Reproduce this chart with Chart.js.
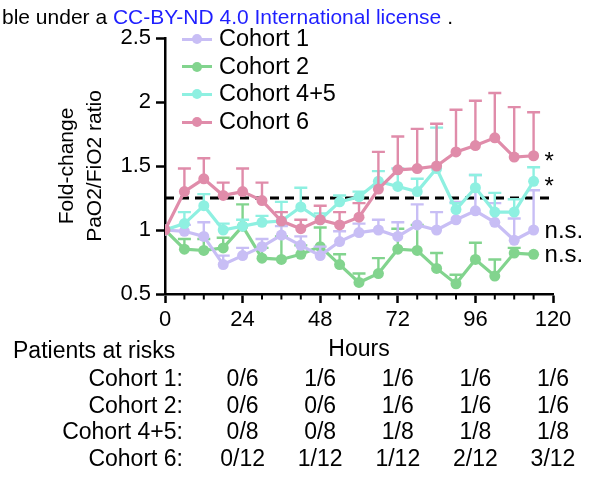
<!DOCTYPE html>
<html>
<head>
<meta charset="utf-8">
<script src="https://cdn.jsdelivr.net/npm/chart.js@4.4.1/dist/chart.umd.min.js"></script>
<style>
body { margin: 0; background: #fff; font-family: 'Liberation Sans', Arial, sans-serif; }
#wrap { position: relative; width: 589px; height: 487px; overflow: hidden; }
canvas { position: absolute; left: 0; top: 0; }
.txt { position: absolute; white-space: nowrap; color: #000; line-height: 1; }
.sw { position: absolute; width: 30px; height: 3px; }
.dot { position: absolute; width: 10px; height: 10px; border-radius: 50%; }
</style>
</head>
<body>
<div id="wrap">
  <canvas id="grafico" width="589" height="487"></canvas>
  <div class="txt" style="left:2px;top:6px;font-size:21px">ble under a <span style="color:#1f1fff">CC-BY-ND 4.0 International license</span> .</div>
  <div id="extras"></div>
</div>
<script>
// datos (cada 6 h)
const horas = [0, 6, 12, 18, 24, 30, 36, 42, 48, 54, 60, 66, 72, 78, 84, 90, 96, 102, 108, 114]

const cohorte1 = [1.00, 0.99, 0.95, 0.73, 0.80, 0.87, 0.96, 0.88, 0.80, 0.91, 0.98, 1.00, 0.95, 1.04, 1.00, 1.08, 1.15, 1.06, 0.92, 1.00]
const cohorte1Sup = [1.00, 1.04, 1.06, 0.80, 0.86, 0.93, 1.03, 0.95, 0.87, 0.99, 1.05, 1.08, 1.06, 1.20, 1.14, 1.22, 1.43, 1.21, 1.09, 1.31]

const cohorte2 = [1.00, 0.85, 0.84, 0.86, 1.03, 0.78, 0.77, 0.81, 0.87, 0.73, 0.59, 0.66, 0.85, 0.84, 0.70, 0.58, 0.77, 0.64, 0.82, 0.81]
const cohorte2Sup = [1.00, 0.93, 0.93, 0.94, 1.20, 0.86, 0.95, 0.88, 1.02, 0.81, 0.66, 0.78, 1.01, 1.04, 0.82, 0.65, 0.90, 0.77, 0.86, 0.81]

const cohorte45 = [1.00, 1.05, 1.19, 1.00, 1.03, 1.06, 1.07, 1.18, 1.08, 1.22, 1.26, 1.38, 1.34, 1.30, 1.48, 1.16, 1.33, 1.14, 1.14, 1.38]
const cohorte45Sup = [1.00, 1.14, 1.28, 1.05, 1.08, 1.11, 1.22, 1.33, 1.13, 1.27, 1.30, 1.46, 1.48, 1.40, 1.80, 1.21, 1.43, 1.29, 1.24, 1.49]

const cohorte6 = [1.00, 1.30, 1.40, 1.27, 1.30, 1.23, 1.07, 1.01, 1.08, 1.04, 1.10, 1.32, 1.47, 1.48, 1.50, 1.61, 1.66, 1.72, 1.57, 1.58]
const cohorte6Sup = [1.00, 1.48, 1.56, 1.37, 1.48, 1.37, 1.14, 1.08, 1.19, 1.14, 1.21, 1.61, 1.73, 1.79, 1.83, 1.94, 2.01, 2.07, 1.96, 1.92]

const nombres = ['Cohort 1', 'Cohort 2', 'Cohort 4+5', 'Cohort 6']
const colores = ['#c8bef5', '#82d48e', '#8ef0e1', '#e08caa']
const signif = ['n.s.', 'n.s.', '*', '*']
const UMBRAL = 1.25

// tabla pacientes en riesgo
const horasRiesgo = [24, 48, 72, 96, 120]
const filasRiesgo = ['Cohort 1:', 'Cohort 2:', 'Cohort 4+5:', 'Cohort 6:']
const riesgo1 = ['0/6', '1/6', '1/6', '1/6', '1/6']
const riesgo2 = ['0/6', '0/6', '1/6', '1/6', '1/6']
const riesgo45 = ['0/8', '0/8', '1/8', '1/8', '1/8']
const riesgo6 = ['0/12', '1/12', '1/12', '2/12', '3/12']

const series = [cohorte1, cohorte2, cohorte45, cohorte6]
const superiores = [cohorte1Sup, cohorte2Sup, cohorte45Sup, cohorte6Sup]
const ordenDibujo = [2, 3, 1, 0]

Chart.defaults.font.family = "'Liberation Sans', Arial, sans-serif"
Chart.defaults.color = '#000'

// barras de error (solo hacia arriba)
const barrasError = {
  id: 'barrasError',
  beforeDatasetDraw(chart, args) {
    const ds = chart.data.datasets[args.index]
    const ctx = chart.ctx
    const escY = chart.scales.y
    ctx.save()
    ctx.strokeStyle = ds.borderColor
    ctx.lineWidth = 2.4
    ds.sup.forEach((v, i) => {
      const p = args.meta.data[i]
      const yt = escY.getPixelForValue(v)
      if (p.y - yt < 1) return
      ctx.beginPath()
      ctx.moveTo(p.x, p.y)
      ctx.lineTo(p.x, yt)
      ctx.moveTo(p.x - 6.5, yt)
      ctx.lineTo(p.x + 6.5, yt)
      ctx.stroke()
    })
    ctx.restore()
  }
}

// linea punteada + ticks menores
const extrasEje = {
  id: 'extrasEje',
  beforeDatasetsDraw(chart) {
    const ctx = chart.ctx
    const a = chart.chartArea
    const y = chart.scales.y.getPixelForValue(UMBRAL)
    ctx.save()
    ctx.strokeStyle = '#000'
    ctx.lineWidth = 3
    ctx.setLineDash([9, 6])
    ctx.beginPath()
    ctx.moveTo(a.left, y)
    ctx.lineTo(a.right, y)
    ctx.stroke()
    ctx.restore()
  },
  afterDraw(chart) {
    const ctx = chart.ctx
    const escX = chart.scales.x
    const b = chart.chartArea.bottom
    ctx.save()
    ctx.strokeStyle = '#000'
    ctx.lineWidth = 2
    for (let h = 6; h < 120; h += 6) {
      if (h % 24 === 0) continue
      const x = escX.getPixelForValue(h)
      ctx.beginPath()
      ctx.moveTo(x, b)
      ctx.lineTo(x, b + 5.5)
      ctx.stroke()
    }
    ctx.restore()
  }
}

const ctx = document.getElementById('grafico').getContext('2d')
const chart = new Chart(ctx, {
  type: 'line',
  data: {
    datasets: series.map((s, k) => ({
      label: nombres[k],
      data: horas.map((h, i) => ({ x: h, y: s[i] })),
      sup: superiores[k],
      borderColor: colores[k],
      backgroundColor: colores[k],
      borderWidth: 3.2,
      pointRadius: 5.5,
      pointBorderWidth: 0,
      tension: 0,
      order: ordenDibujo[k]
    }))
  },
  options: {
    responsive: false,
    animation: false,
    layout: { padding: { left: 0, top: 38, right: 36, bottom: 124 } },
    plugins: { legend: { display: false }, tooltip: { enabled: false } },
    scales: {
      x: {
        type: 'linear',
        min: 0,
        max: 120,
        afterFit: s => { s.height = 69 },
        ticks: { stepSize: 24, padding: 4, font: { size: 22 } },
        grid: { drawOnChartArea: false, drawTicks: true, tickLength: 9, tickWidth: 2.5, tickColor: '#000' },
        border: { color: '#000', width: 2.5 },
        title: { display: true, text: 'Hours', font: { size: 23 }, padding: 0 }
      },
      y: {
        min: 0.5,
        max: 2.5,
        afterFit: s => { s.width = 165 },
        ticks: { stepSize: 0.5, padding: 5, font: { size: 22 }, callback: v => String(v) },
        grid: { drawOnChartArea: false, drawTicks: true, tickLength: 9, tickWidth: 2.5, tickColor: '#000' },
        border: { color: '#000', width: 2.5 },
        title: { display: true, text: ['Fold-change', 'PaO2/FiO2 ratio'], font: { size: 21, lineHeight: 1.3 }, padding: { top: 54, bottom: 0 } }
      }
    }
  },
  plugins: [barrasError, extrasEje]
})

// textos en HTML
const extras = document.getElementById('extras')
const escX = chart.scales.x
const escY = chart.scales.y

function texto(t, left, top, size, extra) {
  const d = document.createElement('div')
  d.className = 'txt'
  d.textContent = t
  d.style.fontSize = size + 'px'
  d.style.left = left + 'px'
  d.style.top = top + 'px'
  if (extra) Object.assign(d.style, extra)
  extras.appendChild(d)
  return d
}

// leyenda
nombres.forEach((n, k) => {
  const yc = 39 + k * 27.7
  const sw = document.createElement('div')
  sw.className = 'sw'
  sw.style.left = '182px'
  sw.style.top = (yc - 1.5) + 'px'
  sw.style.background = colores[k]
  extras.appendChild(sw)
  const dot = document.createElement('div')
  dot.className = 'dot'
  dot.style.left = '192px'
  dot.style.top = (yc - 5) + 'px'
  dot.style.background = colores[k]
  extras.appendChild(dot)
  texto(n, 219, yc - 12, 23.5)
})

// significancia
series.forEach((s, k) => {
  const x = escX.getPixelForValue(horas[horas.length - 1]) + 11
  const y = escY.getPixelForValue(s[s.length - 1])
  const off = signif[k] === '*' ? -7 : -12
  texto(signif[k], x, y + off, 24)
})

// pacientes en riesgo
texto('Patients at risks', 13, 339, 23)
const tabla = [riesgo1, riesgo2, riesgo45, riesgo6]
filasRiesgo.forEach((f, r) => {
  const yc = 379 + r * 26.7
  texto(f, 0, yc - 12, 23, { width: '183px', textAlign: 'right' })
  tabla[r].forEach((v, c) => {
    const x = escX.getPixelForValue(horasRiesgo[c])
    texto(v, x - 30, yc - 12, 23, { width: '60px', textAlign: 'center' })
  })
})
</script>
</body>
</html>
